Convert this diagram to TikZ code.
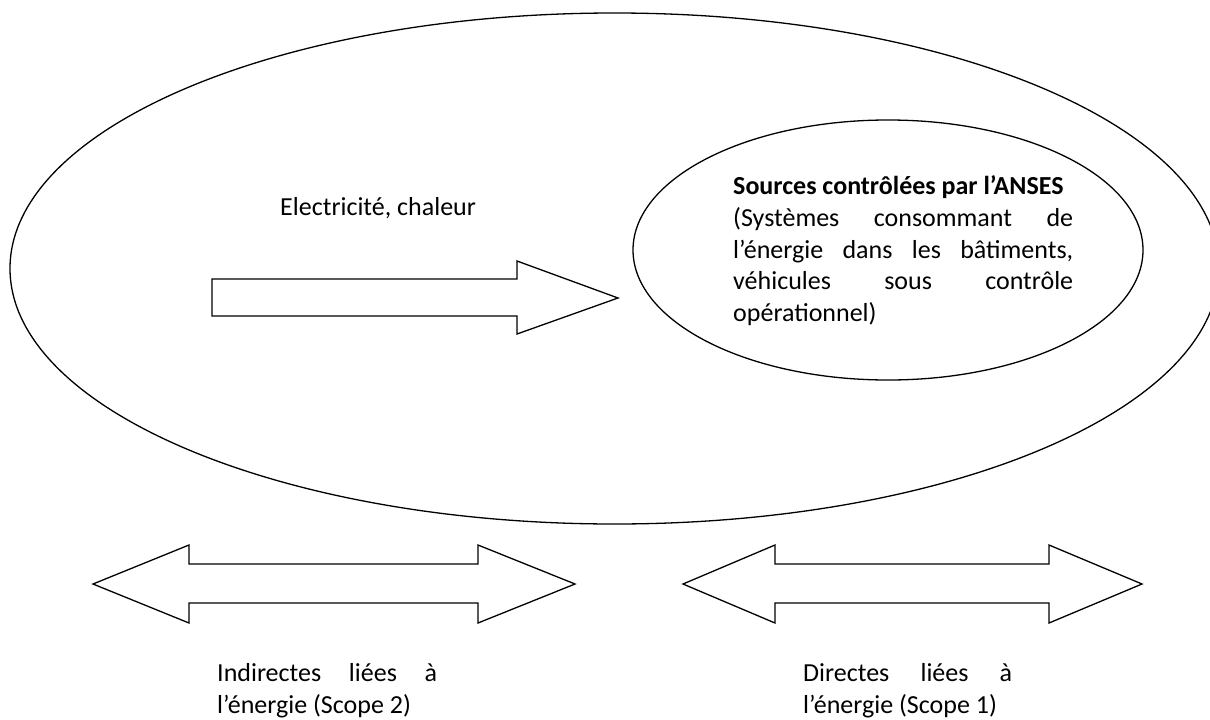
\documentclass[tikz,border=0pt]{standalone}
\usepackage{fontspec}
\setmainfont{Carlito}
\usetikzlibrary{shapes.geometric}
\tikzset{
  oval/.style={ellipse, draw, line width=1.3pt, inner sep=0pt},
  blockarrow/.style={draw, line width=1.3pt, line join=miter, fill=white},
  txt/.style={inner sep=0pt, align=left, font=\fontsize{26}{31.7}\selectfont},
}
\begin{document}
\begin{tikzpicture}[x=1pt,y=-1pt]
\useasboundingbox (0,0) rectangle (1210,720);
% big ellipse
\node[oval, minimum width=1209pt, minimum height=511pt] (big) at (614.5,268.5) {};
% small ellipse
\node[oval, minimum width=510pt, minimum height=260pt] (small) at (888,250) {};
% right arrow
\draw[blockarrow] (212,279) -- (517,279) -- (517,261) -- (618,298) -- (517,334) -- (517,316) -- (212,316) -- cycle;
% bottom-left double arrow
\draw[blockarrow] (93,584) -- (189,545) -- (189,564) -- (478,564) -- (478,545) -- (575,584) -- (478,623) -- (478,603) -- (189,603) -- (189,623) -- cycle;
% bottom-right double arrow
\draw[blockarrow] (683,584) -- (775,545) -- (775,564) -- (1049,564) -- (1049,545) -- (1142,584) -- (1049,623) -- (1049,603) -- (775,603) -- (775,623) -- cycle;
% texts (base anchor = baseline of the last line)
\node[txt, anchor=base west] (elec) at (280,215) {Electricité, chaleur};
\node[txt, anchor=base west] (src) at (733,321.6) {\textbf{Sources contrôlées par l’ANSES}\\
\makebox[340pt][s]{(Systèmes consommant de}\\
\makebox[340pt][s]{l’énergie dans les bâtiments,}\\
\makebox[340pt][s]{véhicules sous contrôle}\\
opérationnel)};
\node[txt, anchor=base west] (ind) at (217,713) {\makebox[220pt][s]{Indirectes liées à}\\ l’énergie (Scope 2)};
\node[txt, anchor=base west] (dir) at (803,713) {\makebox[209pt][s]{Directes liées à}\\ l’énergie (Scope 1)};
\end{tikzpicture}
\end{document}
